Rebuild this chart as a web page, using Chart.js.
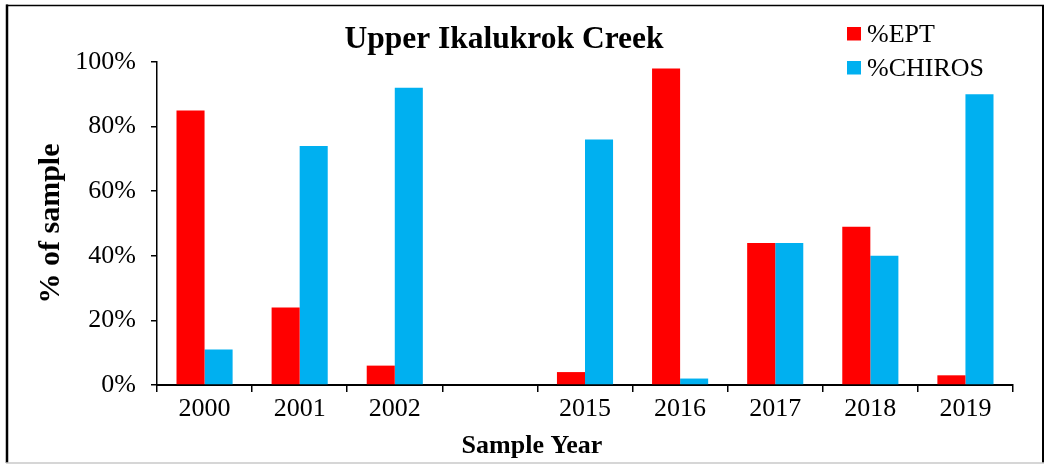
<!DOCTYPE html>
<html>
<head>
<meta charset="utf-8">
<script src="https://cdn.jsdelivr.net/npm/chart.js@4/dist/chart.umd.min.js"></script>
<style>
  html, body { margin: 0; padding: 0; background: #fff; }
  #wrap { width: 1046px; height: 465px; position: relative; }
</style>
</head>
<body>
<div id="wrap"><canvas id="chart" width="1046" height="465"></canvas></div>
<script>
const years = ['2000', '2001', '2002', '', '2015', '2016', '2017', '2018', '2019'];
const ept = [85, 24, 6, null, 4, 98, 44, 49, 3];
const chiros = [11, 74, 92, null, 76, 2, 44, 40, 90];
const yTicks = [0, 20, 40, 60, 80, 100];

const FONT = '"Liberation Serif", "Times New Roman", serif';

// frame, title, legend and x title are drawn by hand
const extras = {
  id: 'extras',
  afterDraw(chart) {
    const ctx = chart.ctx;
    ctx.save();
    ctx.strokeStyle = '#000';
    ctx.lineWidth = 2.5;
    ctx.beginPath(); ctx.moveTo(7, 4.5); ctx.lineTo(7, 463); ctx.stroke();
    ctx.lineWidth = 1.5;
    ctx.beginPath(); ctx.moveTo(6, 5.5); ctx.lineTo(1044, 5.5); ctx.stroke();
    ctx.lineWidth = 2;
    ctx.beginPath(); ctx.moveTo(1043, 5); ctx.lineTo(1043, 463); ctx.stroke();
    ctx.strokeStyle = '#c8c8c8';
    ctx.lineWidth = 1.5;
    ctx.beginPath(); ctx.moveTo(6, 463); ctx.lineTo(1044, 463); ctx.stroke();

    ctx.fillStyle = '#000';
    ctx.textBaseline = 'alphabetic';
    ctx.textAlign = 'center';
    ctx.font = 'bold 31.5px ' + FONT;
    ctx.fillText('Upper Ikalukrok Creek', 504, 48);
    ctx.font = 'bold 26px ' + FONT;
    ctx.fillText('Sample Year', 532, 453);

    ctx.textAlign = 'left';
    ctx.font = '26px ' + FONT;
    chart.data.datasets.forEach((ds, i) => {
      const top = 27 + i * 34;
      ctx.fillStyle = ds.backgroundColor;
      ctx.fillRect(847, top, 14, 13.5);
      ctx.fillStyle = '#000';
      ctx.fillText(ds.label, 867, top + 15);
    });
    ctx.restore();
  }
};

new Chart(document.getElementById('chart'), {
  type: 'bar',
  data: {
    labels: years,
    datasets: [
      { label: '%EPT', data: ept, backgroundColor: '#FF0000' },
      { label: '%CHIROS', data: chiros, backgroundColor: '#00B0F0' }
    ]
  },
  options: {
    responsive: false,
    animation: false,
    layout: { padding: { left: 0, right: 33, top: 62, bottom: 0 } },
    datasets: { bar: { categoryPercentage: 0.59, barPercentage: 1.0 } },
    plugins: {
      legend: { display: false },
      tooltip: { enabled: false }
    },
    scales: {
      x: {
        afterFit(axis) { axis.height = 80; },
        grid: { drawOnChartArea: false, drawTicks: true, tickLength: 7, color: '#000', lineWidth: 1.5, offset: true },
        border: { color: '#000', width: 2 },
        ticks: { color: '#000', font: { family: FONT, size: 26 }, padding: 2, maxRotation: 0, autoSkip: false }
      },
      y: {
        min: 0,
        max: 100,
        afterFit(axis) { axis.width = 157; },
        afterBuildTicks(axis) { axis.ticks = yTicks.map(v => ({ value: v })); },
        grid: { drawOnChartArea: false, drawTicks: true, tickLength: 6, color: '#000', lineWidth: 1.5 },
        border: { color: '#000', width: 1.5 },
        ticks: {
          color: '#000',
          font: { family: FONT, size: 26 },
          padding: 15,
          callback: v => v + '%'
        },
        title: {
          display: true,
          text: '% of sample',
          color: '#000',
          font: { family: FONT, size: 30, weight: 'bold' },
          padding: { top: 33, bottom: 0 }
        }
      }
    }
  },
  plugins: [extras]
});
</script>
</body>
</html>
